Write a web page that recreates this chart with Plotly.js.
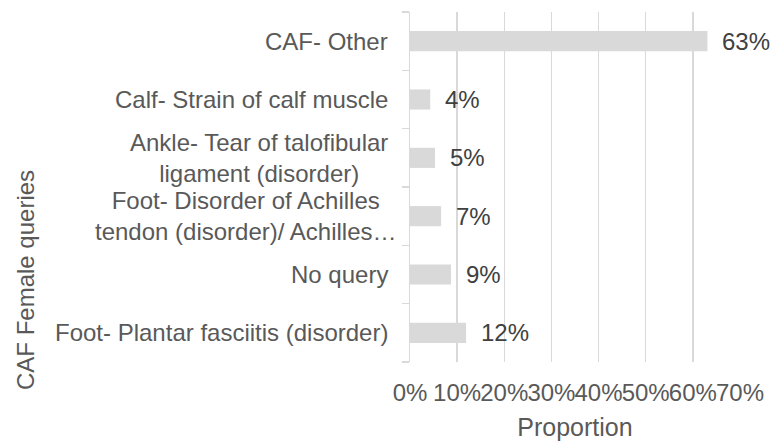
<!DOCTYPE html>
<html>
<head>
<meta charset="utf-8">
<script src="https://cdn.plot.ly/plotly-3.0.1.min.js"></script>
<style>html,body{margin:0;padding:0;background:#fff;}#chart{width:775px;height:445px;}</style>
</head>
<body>
<div id="chart"></div>
<script>
// Data (bottom to top)
const categories = [
  "Foot- Plantar fasciitis (disorder)",
  "No query",
  "Foot- Disorder of Achilles<br>tendon (disorder)/ Achilles…",
  "Ankle- Tear of talofibular<br>ligament (disorder)",
  "Calf- Strain of calf muscle",
  "CAF- Other"
];
const proportions = [0.119, 0.087, 0.066, 0.053, 0.043, 0.631];
const xTickVals = [0, 0.1, 0.2, 0.3, 0.4, 0.5, 0.6, 0.7];
const xTitle = "Proportion";
const yTitle = "CAF Female queries";

const FONT = "Liberation Sans, Arial, Helvetica, sans-serif";
const labelColor = "#595959";
const FS = 24;

const trace = {
  type: "bar",
  orientation: "h",
  x: proportions,
  y: categories,
  marker: {color: "#d9d9d9"},
  hoverinfo: "none"
};

const annotations = [];
categories.forEach((c, i) => {
  annotations.push({
    x: 0, y: c, xref: "x", yref: "y",
    text: c, showarrow: false,
    xanchor: "right", yanchor: "middle", align: "center",
    xshift: c.indexOf("…") >= 0 ? -12 : -20,
    font: {family: FONT, size: FS, color: labelColor}
  });
  annotations.push({
    x: proportions[i], y: c, xref: "x", yref: "y",
    text: Math.round(proportions[i] * 100) + "%", showarrow: false,
    xanchor: "left", yanchor: "middle",
    xshift: 13,
    font: {family: FONT, size: FS, color: "#404040"}
  });
});
annotations.push({
  x: -1.167, y: 0.234, xref: "paper", yref: "paper",
  text: yTitle, showarrow: false, textangle: -90,
  xanchor: "center", yanchor: "middle",
  font: {family: FONT, size: FS, color: labelColor}
});

const layout = {
  width: 775, height: 445,
  margin: {l: 410, r: 35, t: 12, b: 83, pad: 0},
  paper_bgcolor: "#fff", plot_bgcolor: "#fff",
  showlegend: false,
  bargap: 0.655,
  font: {family: FONT, size: FS, color: labelColor},
  xaxis: {
    range: [0, 0.7001],
    tickvals: xTickVals,
    tickformat: ".0%",
    tickangle: 0,
    showgrid: true, gridcolor: "#d9d9d9", gridwidth: 1.5,
    zeroline: false, showline: false,
    ticks: "", ticklabelstandoff: 14,
    tickfont: {family: FONT, size: FS, color: labelColor},
    title: {text: xTitle, standoff: 13, font: {family: FONT, size: 25, color: labelColor}},
    fixedrange: true
  },
  yaxis: {
    type: "category",
    categoryorder: "array", categoryarray: categories,
    showticklabels: false,
    showline: true, linecolor: "#d9d9d9", linewidth: 1.5,
    ticks: "outside", tickson: "boundaries", ticklen: 7, tickcolor: "#d9d9d9", tickwidth: 1.5,
    showgrid: false, zeroline: false,
    fixedrange: true
  },
  annotations: annotations
};

Plotly.newPlot("chart", [trace], layout, {displayModeBar: false, staticPlot: true});
</script>
</body>
</html>
